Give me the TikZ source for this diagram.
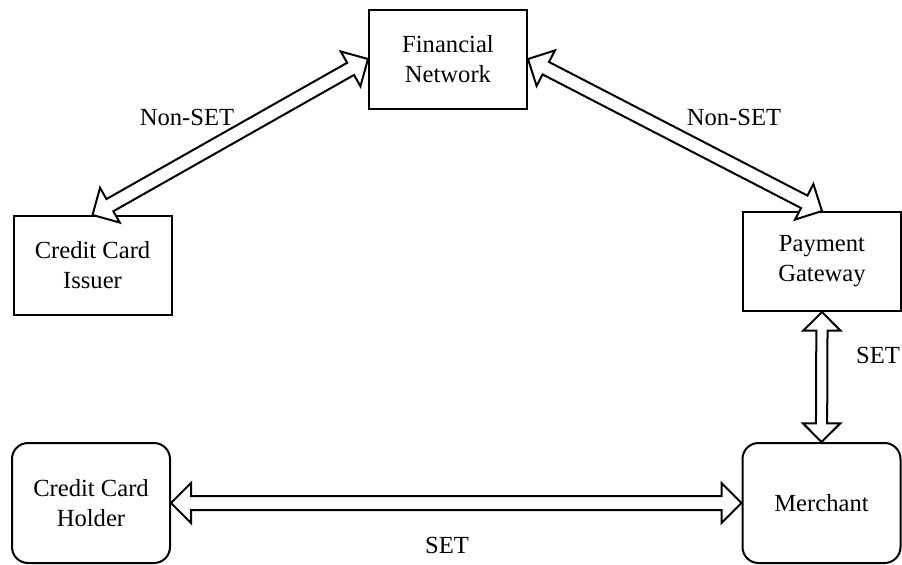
\documentclass[tikz,border=0pt]{standalone}
\usepackage{fontspec}
\setmainfont{Liberation Serif}
\usetikzlibrary{positioning, calc, shapes.arrows}
\tikzset{
    party/.style = {draw=black, line width=1pt, align=center,
        minimum width=79pt, minimum height=49.5pt, inner sep=0pt},
    bank/.style = {party},
    user/.style = {party, rounded corners=8pt, minimum height=60pt},
    link/.style = {double arrow, draw=black, fill=white, line width=1pt,
        sloped, inner xsep=0pt, inner ysep=3pt,
        double arrow head extend=6.5pt, double arrow head indent=0pt},
    thinlink/.style = {link, inner ysep=2.3pt, double arrow head extend=6.5pt},
    proto/.style = {inner sep=0pt},
}

\begin{document}
\begin{tikzpicture}[x=0.5pt, y=-0.5pt, font=\fontsize{12.3}{15}\selectfont]
    \useasboundingbox (0,0) rectangle (902,564);
    % parties
    \node (fin) [bank] at (448,59) {Financial\\Network};
    \node (issuer) [bank] at (92.5,265.5) {Credit Card\\Issuer};
    \node (gateway) [bank] at (822,261.5) {Payment\\Gateway};
    \node (holder) [user] at (91,503) {Credit Card\\Holder};
    \node (merchant) [user] at (821.5,503) {Merchant};
    % links
    \path let \p1 = ($(issuer.north)-(fin.west)$), \n1 = {veclen(\x1,\y1)} in
        (fin.west) -- node[link, minimum height=\n1] {} (issuer.north);
    \path let \p1 = ($(gateway.north)-(fin.east)$), \n1 = {veclen(\x1,\y1)} in
        (fin.east) -- node[link, minimum height=\n1] {} (gateway.north);
    \path let \p1 = ($(merchant.north)-(gateway.south)$), \n1 = {veclen(\x1,\y1)} in
        (gateway.south) -- node[thinlink, minimum height=\n1] {} (merchant.north);
    \path let \p1 = ($(merchant.west)-(holder.east)$), \n1 = {veclen(\x1,\y1)} in
        (holder.east) -- node[link, minimum height=\n1] {} (merchant.west);
    % protocol labels
    \node (nonsetl) [proto] at (187,117) {Non-SET};
    \node (nonsetr) [proto] at (734,117) {Non-SET};
    \node (setv) [proto] at (878,355) {SET};
    \node (seth) [proto] at (447,545) {SET};
\end{tikzpicture}
\end{document}
